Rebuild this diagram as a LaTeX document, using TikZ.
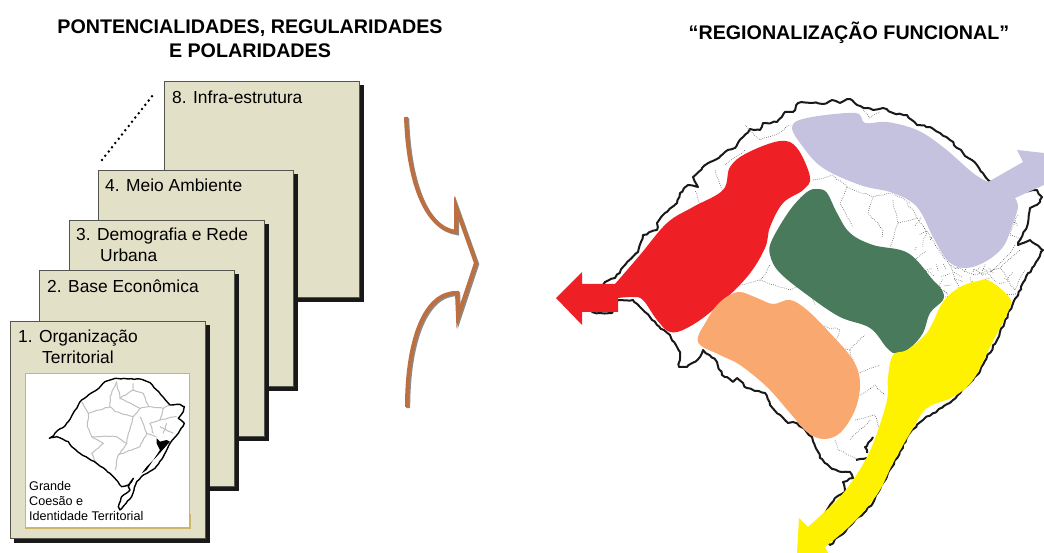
\documentclass[tikz,border=0pt]{standalone}
\usepackage{fontspec}
\setmainfont{Liberation Sans}
\usepackage{xcolor}
\usetikzlibrary{positioning, shadows, decorations.pathmorphing}
\definecolor{sheetfill}{HTML}{E3E0C8}
\definecolor{sheetline}{HTML}{555550}
\definecolor{framegold}{HTML}{CDB56A}
\definecolor{arrowbrown}{HTML}{BC6F40}
\definecolor{lilac}{HTML}{C5C2E0}
\definecolor{regred}{HTML}{EF1F26}
\definecolor{reggreen}{HTML}{4A7A5C}
\definecolor{regorange}{HTML}{F9A96F}
\definecolor{regyellow}{HTML}{FFF200}
\begin{document}
\begin{tikzpicture}[x=1pt,y=-1pt,
	sheet/.style = {draw=sheetline, line width=1pt, fill=sheetfill, minimum width=195pt, minimum height=216pt, anchor=north west, inner sep=0pt,
		copy shadow={shadow xshift=4pt, shadow yshift=-4pt, fill=black!90, draw=black!90}},
	sheetlabel/.style = {anchor=north west, align=left, font=\fontsize{17.4}{20.5}\selectfont, inner sep=0pt},
	heading/.style = {font=\bfseries\fontsize{19.7}{24}\selectfont, align=center, inner sep=0pt},
	border/.style = {draw=black!90, line width=2pt, line join=round, decorate, decoration={random steps, segment length=3.5pt, amplitude=1pt}},
	muni/.style = {draw=black!70, line width=.6pt, dash pattern=on .6pt off 1.4pt, decorate, decoration={random steps, segment length=5pt, amplitude=1pt}},
	minigrey/.style = {draw=black!25, line width=1pt, decorate, decoration={random steps, segment length=3pt, amplitude=.5pt}},
	miniborder/.style = {draw=black, line width=1.4pt, line join=round, decorate, decoration={random steps, segment length=3pt, amplitude=.4pt}}]
	\useasboundingbox (0,0) rectangle (1044,553);
	\pgfmathsetseed{7}

	\node[heading] (title1) at (250,39) {PONTENCIALIDADES, REGULARIDADES\\E POLARIDADES};
	\node[heading] (title2) at (849,33) {“REGIONALIZAÇÃO FUNCIONAL”};

	% pilha de folhas
	\node[sheet] (s8) at (164,81) {};
	\node[sheet] (s4) at (98,170) {};
	\node[sheet] (s3) at (69,220) {};
	\node[sheet] (s2) at (39,270) {};
	\node[sheet, minimum height=217pt] (s1) at (10,321) {};
	\node[sheetlabel] (l8) at (172,91) {8. Infra-estrutura};
	\node[sheetlabel] (l4) at (105,179) {4. Meio Ambiente};
	\node[sheetlabel] (l3) at (76,228) {3. Demografia e Rede\\\hspace*{24pt}Urbana};
	\node[sheetlabel] (l2) at (47,280) {2. Base Econômica};
	\node[sheetlabel] (l1) at (18,330) {1. Organização\\\hspace*{24pt}Territorial};
	\coordinate (dots1) at (102,160);
	\coordinate (dots2) at (153,95);
	\draw[line width=2.8pt, line cap=round, dash pattern=on 0pt off 5.4pt] (dots1) -- (dots2);

	% mapa pequeno
	\node[draw=framegold, fill=white, line width=.8pt, minimum width=164pt, minimum height=154pt, anchor=north west, inner sep=0pt] (minibox) at (25,373) {};
	\draw[framegold, line width=1.4pt] (minibox.south west) -- (minibox.south east) -- ++(0,-14);
	\begin{scope}[shift={(0,310)}, x=.3333pt, y=-.3333pt]
		\draw[minigrey] (245,275) -- (265,310) -- (262,350) -- (275,380) -- (350,380) -- (380,400) -- (355,435) -- (345,480);
		\draw[minigrey] (265,310) -- (330,290) -- (330,260) -- (350,215);
		\draw[minigrey] (330,290) -- (345,305) -- (400,320) -- (420,295) -- (360,265) -- (350,215);
		\draw[minigrey] (400,220) -- (400,240) -- (360,265);
		\draw[minigrey] (400,240) -- (430,250) -- (445,290) -- (490,295) -- (510,285);
		\draw[minigrey] (420,295) -- (445,290);
		\draw[minigrey] (275,380) -- (310,400) -- (275,430) -- (290,460);
		\draw[minigrey] (400,320) -- (385,370) -- (380,400);
		\draw[minigrey] (420,320) -- (440,370) -- (420,410) -- (355,435);
		\draw[minigrey] (440,370) -- (470,380);
		\draw[minigrey] (490,295) -- (480,330) -- (450,340) -- (460,370);
		\draw[minigrey] (480,330) -- (530,320);
		\draw[minigrey] (480,350) -- (520,370);
		\draw[minigrey] (500,340) -- (490,370);
		\draw[miniborder] (148,385) -- (160,378) -- (172,362) -- (195,348) -- (205,335) -- (215,318) -- (235,285) -- (245,270) -- (265,255) -- (290,240) -- (315,215) -- (345,205) -- (385,207) -- (420,207) -- (450,218) -- (470,240) -- (490,262) -- (510,285) -- (540,283) -- (553,290) -- (550,305) -- (535,325) -- (553,340) -- (535,370) -- (510,400) -- (490,440) -- (465,475) -- (430,495) -- (410,515) -- (395,560) -- (360,600) -- (355,590) -- (365,560) -- (390,540) -- (385,530) -- (400,505) -- (385,525) -- (365,530) -- (345,505) -- (330,490) -- (290,460) -- (265,445) -- (240,430) -- (215,410) -- (205,395) -- (170,380) -- cycle;
		\fill (470,385) -- (480,395) -- (500,390) -- (510,395) -- (470,440) -- (440,470) -- (425,490) -- (440,480) -- (480,420) -- (470,400) -- cycle;
	\end{scope}
	\node[anchor=north west, align=left, font=\fontsize{12.6}{15}\selectfont, inner sep=0pt] (minitext) at (29,481) {Grande\\Coesão e\\Identidade Territorial};

	% seta
	\coordinate (top) at (406,117);
	\coordinate (elbow1) at (456,232);
	\coordinate (barb1) at (456,207);
	\coordinate (tip) at (476,263);
	\coordinate (barb2) at (458,317);
	\coordinate (elbow2) at (457,293);
	\coordinate (bottom) at (407,407);
	\foreach \col/\wid/\off in {black!45/4/1.2, arrowbrown/4/0}{
		\draw[\col, line width=\wid pt, line join=miter, transform canvas={xshift=\off pt, yshift=-\off pt}] (top) .. controls (408,180) and (425,228) .. (elbow1) -- (barb1) -- (tip) -- (barb2) -- (elbow2) .. controls (425,292) and (407,340) .. (bottom);
	}

	% mapa grande
	\draw[border] (592,312) -- (605,282) -- (615,278) -- (623,267) -- (638,252) -- (643,235) -- (657,230) -- (657,223) -- (665,213) -- (677,203) -- (680,193) -- (688,185) -- (698,187) -- (693,177) -- (702,168) -- (715,160) -- (725,152) -- (735,148) -- (743,137) -- (750,129) -- (760,130) -- (763,123) -- (777,122) -- (785,112) -- (793,112) -- (798,103) -- (812,103) -- (823,104) -- (832,100) -- (840,103) -- (850,99) -- (857,105) -- (873,110) -- (883,108) -- (893,113) -- (907,115) -- (917,125) -- (930,127) -- (940,133) -- (950,140) -- (963,153) -- (977,165) -- (988,180) -- (1015,195) -- (1037,190) -- (1042,197) -- (1040,202) -- (1030,208) -- (1028,223) -- (1020,240) -- (1018,245) -- (1030,240) -- (1043,250) -- (1025,280) -- (1010,310) -- (997,340) -- (977,375) -- (953,400) -- (923,420) -- (912,430) -- (883,483) -- (873,503) -- (853,523) -- (830,545) -- (815,530) -- (827,510) -- (835,498) -- (845,492) -- (843,482) -- (853,478) -- (850,472) -- (842,472) -- (830,467) -- (820,458) -- (812,437) -- (803,428) -- (793,422) -- (788,423) -- (770,405) -- (765,393) -- (747,388) -- (737,378) -- (733,382) -- (722,375) -- (717,362) -- (703,350) -- (700,357) -- (687,367) -- (679,367) -- (680,352) -- (670,335) -- (657,325) -- (640,307) -- (633,300) -- (618,300) -- (612,313) -- (600,313) -- cycle;
	\draw[border] (873,437) -- (865,447) -- (867,453);
	\draw[border] (856,460) -- (867,458);
	\draw[muni] (813,180) -- (833,175) -- (847,187) -- (840,203) -- (853,227);
	\draw[muni] (847,187) -- (873,197) -- (868,213) -- (883,230) -- (882,237);
	\draw[muni] (873,197) -- (893,193) -- (910,203);
	\draw[muni] (893,200) -- (898,223) -- (917,218) -- (930,237);
	\draw[muni] (898,223) -- (890,247);
	\draw[muni] (917,218) -- (907,203);
	\draw[muni] (930,237) -- (950,265) -- (975,275) -- (1000,268) -- (1020,250);
	\draw[muni] (950,265) -- (960,290) -- (945,300);
	\draw[muni] (1000,268) -- (1015,290) -- (1025,270);
	\draw[muni] (990,272) -- (1005,258) -- (1015,245);
	\draw[muni] (745,125) -- (760,140) -- (775,135) -- (790,125);
	\draw[muni] (715,170) -- (725,195) -- (700,205) -- (695,190);
	\draw[muni] (725,165) -- (745,150);
	\draw[muni] (860,105) -- (870,118) -- (880,112);
	\draw[muni] (1018,215) -- (1010,235) -- (1022,240);
	\draw[muni] (740,285) -- (760,280) -- (770,265);
	\draw[muni] (760,280) -- (790,290) -- (805,285) -- (815,305);
	\draw[muni] (725,290) -- (745,278);
	\draw[muni] (820,325) -- (840,330) -- (835,345) -- (850,350) -- (865,335);
	\draw[muni] (850,350) -- (857,375) -- (880,365);
	\draw[muni] (860,395) -- (875,385) -- (885,395);
	\draw[muni] (855,420) -- (875,415) -- (880,430);
	\draw[muni] (835,440) -- (838,450) -- (860,460);
	\draw[muni] (850,440) -- (870,420);
	\foreach \i in {1,...,90}{
		\pgfmathsetmacro\ax{915+rnd*100}
		\pgfmathsetmacro\ay{215+rnd*85}
		\draw[muni] (\ax,\ay) -- ++(rnd*20-10,rnd*20-10);
	}

	% regioes
	\fill[lilac] plot[smooth, tension=.6] coordinates {(988,182) (973,173) (943,147) (917,130) (887,122) (865,123) (855,113) (807,118) (792,127) (803,147) (823,168) (860,185) (893,193) (917,207) (933,237) (947,260) (963,268) (983,263) (1003,247) (1013,223) (1018,207) (1015,198)} -- (1044,185) -- (1044,153) -- (1017,150) -- (1023,162) -- cycle;
	\fill[regred] plot[smooth, tension=.6] coordinates {(615,284) (640,255) (667,223) (693,207) (723,190) (730,167) (747,153) (780,141) (797,148) (810,177) (803,190) (783,203) (770,227) (765,248) (747,277) (713,310) (687,328) (670,332) (657,320) (643,300) (633,297) (618,298)} -- (618,312) -- (582,312) -- (582,325) -- (556,298) -- (582,272) -- (582,284) -- cycle;
	\fill[reggreen] plot[smooth cycle, tension=.6] coordinates {(818,189) (807,192) (790,210) (772,240) (770,255) (780,273) (810,297) (840,317) (870,328) (887,348) (897,354) (910,348) (923,333) (930,313) (943,300) (942,290) (933,280) (908,253) (873,245) (850,233) (837,213) (827,193)};
	\fill[regorange] plot[smooth cycle, tension=.6] coordinates {(698,342) (707,320) (720,302) (738,292) (757,298) (773,304) (790,300) (807,310) (830,333) (853,360) (860,383) (855,410) (840,433) (823,439) (807,432) (790,413) (767,387) (740,365) (720,355)};
	\fill[regyellow] plot[smooth, tension=.6] coordinates {(808,527) (837,500) (853,480) (867,457) (877,433) (887,400) (888,377) (893,355) (907,350) (925,335) (933,322) (943,302) (960,287) (983,280) (993,283) (1007,295) (1010,307) (990,347) (973,380) (953,397) (927,408) (912,430) (893,463) (878,493) (853,523) (825,547)} -- (828,553) -- (797,553) -- (799,518) -- cycle;
\end{tikzpicture}
\end{document}
